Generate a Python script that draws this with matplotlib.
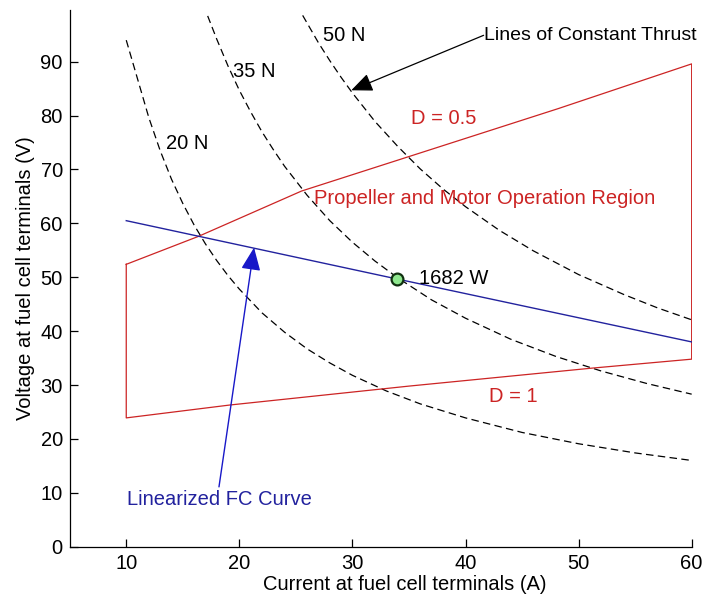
import matplotlib
matplotlib.use("Agg")
import matplotlib.pyplot as plt

plt.rcParams['font.family'] = ['Liberation Sans', 'DejaVu Sans']

# lines of constant thrust (current A, voltage V)
i_20n = [10, 11, 12, 13, 14, 15, 16, 17, 18, 19, 20, 22, 24, 26, 28, 30,
         33, 36, 40, 45, 50, 55, 60]
v_20n = [94.0, 86.8, 79.6, 73.5, 68.2, 63.7, 59.7, 56.2, 53.1, 50.3, 47.8,
         43.4, 39.8, 36.7, 34.1, 31.8, 28.9, 26.5, 23.9, 21.2, 19.1, 17.4, 16.0]
i_35n = [17.2, 18, 19, 20, 21, 22, 23, 24, 26, 28, 30, 32, 34, 37, 40, 44,
         48, 52, 56, 60]
v_35n = [98.5, 94.2, 89.2, 84.7, 80.7, 77.0, 73.7, 70.6, 65.2, 60.5, 56.5,
         53.0, 49.9, 45.8, 42.4, 38.5, 35.3, 32.6, 30.3, 28.3]
i_50n = [25.6, 27, 28, 29, 30, 32, 34, 36, 38, 40, 43, 46, 50, 54, 57, 60]
v_50n = [98.6, 93.5, 90.2, 87.1, 84.2, 78.9, 74.3, 70.1, 66.4, 63.1, 58.7,
         54.9, 50.5, 46.8, 44.3, 42.1]

# propeller / motor operation region outline
region_i = [10, 10, 19.2, 35, 51, 60, 60, 48.2, 35, 25.5, 16.4, 10]
region_v = [52.4, 23.9, 26.3, 29.8, 33.1, 34.8, 89.6, 81.3, 72.4, 66.0, 57.6, 52.4]

# linearized fuel cell curve
fc_i = [10, 33.9, 60]
fc_v = [60.5, 49.7, 38.0]

# operating point
op_i, op_v = 33.9, 49.7
op_label = '1682 W'

red = '#CC2424'
blue = '#22229E'
fs = 14.5

fig = plt.figure(figsize=(7.02, 6.02), dpi=100)
ax = fig.add_axes([0.0993, 0.0919, 0.8860, 0.8915])

for xs, ys in [(i_20n, v_20n), (i_35n, v_35n), (i_50n, v_50n)]:
    ax.plot(xs, ys, color='k', lw=0.9, dashes=(6, 3.5))

ax.plot(region_i, region_v, color=red, lw=0.9)
ax.plot(fc_i, fc_v, color=blue, lw=1.0)
ax.plot(op_i, op_v, 'o', ms=8.5, mfc='#8EE88E', mec='#103010', mew=1.6)

# labels
ax.text(13.5, 74.9, '20 N', fontsize=fs, va='center')
ax.text(19.4, 88.1, '35 N', fontsize=fs, va='center')
ax.text(27.4, 94.9, '50 N', fontsize=fs, va='center')
ax.text(41.6, 94.9, 'Lines of Constant Thrust', fontsize=14, va='center')
ax.annotate('', xy=(29.9, 84.7), xytext=(41.6, 94.9),
            arrowprops=dict(arrowstyle='-|>,head_length=0.65,head_width=0.28',
                            color='k', lw=0.9, mutation_scale=20,
                            shrinkA=0, shrinkB=0))
ax.text(35.2, 79.5, 'D = 0.5', fontsize=fs, va='center', color=red)
ax.text(26.6, 64.7, 'Propeller and Motor Operation Region', fontsize=fs,
        va='center', color=red)
ax.text(42.1, 27.8, 'D = 1', fontsize=fs, va='center', color=red)
ax.text(35.9, 49.7, op_label, fontsize=fs, va='center')
ax.text(10.1, 8.7, 'Linearized FC Curve', fontsize=fs, va='center', color=blue)
ax.annotate('', xy=(21.3, 55.5), xytext=(18.2, 11.1),
            arrowprops=dict(arrowstyle='-|>,head_length=0.7,head_width=0.3',
                            color='#1818C8', lw=1.0, mutation_scale=20,
                            shrinkA=0, shrinkB=0))

ax.set_xlim(5, 60)
ax.set_ylim(0, 99.6)
ax.set_xticks([10, 20, 30, 40, 50, 60])
ax.set_yticks([0, 10, 20, 30, 40, 50, 60, 70, 80, 90])
ax.spines['top'].set_visible(False)
ax.spines['right'].set_visible(False)
for s in ('left', 'bottom'):
    ax.spines[s].set_linewidth(0.9)
ax.tick_params(direction='in', length=6, width=0.9, labelsize=fs, pad=5)
ax.set_xlabel('Current at fuel cell terminals (A)', fontsize=fs)
ax.set_ylabel('Voltage at fuel cell terminals (V)', fontsize=fs, labelpad=4)
ax.xaxis.set_label_coords(0.539, -0.052)

fig.savefig('out.png', dpi=100)
